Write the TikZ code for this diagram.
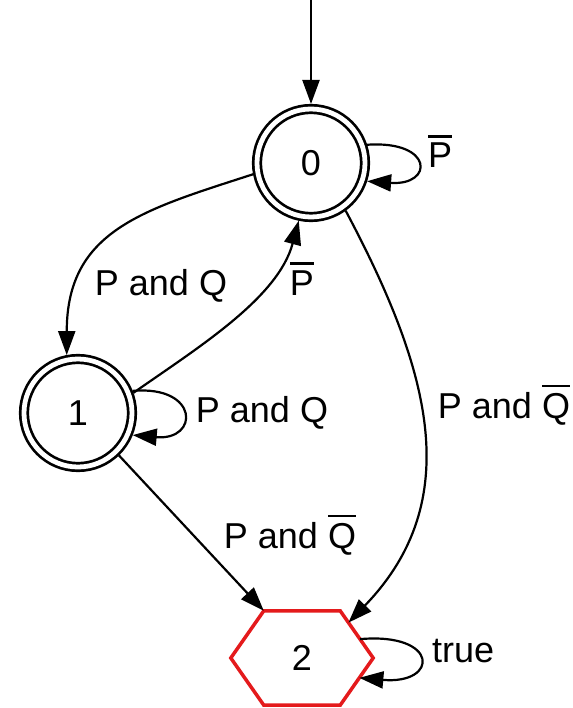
\documentclass[tikz,border=0pt]{standalone}
\usepackage{fontspec}
\setmainfont{Liberation Sans}
\usetikzlibrary{arrows.meta,calc}
\newcommand\ovl[1]{\leavevmode\vbox{\hrule height 2.4pt\kern 5.5pt\hbox{#1}}}
\definecolor{hexred}{RGB}{228,26,28}
\begin{document}
\begin{tikzpicture}[x=1pt,y=1pt,
  every node/.style={font=\fontsize{36}{43}\selectfont, inner sep=0pt},
  accstate/.style={circle, draw, line width=2.7pt, double, double distance=4.8pt,
    minimum size=108pt, outer sep=5pt},
  edge/.style={line width=2.2pt, -{Triangle[length=24pt,width=17pt]}},
  lab/.style={anchor=base}]
\useasboundingbox (0,0) rectangle (572,-708);
% nodes
\node[accstate] (n0) at (311,-163) {0};
\node[accstate] (n1) at (78,-413) {1};
\node[minimum width=142pt, minimum height=94pt] (n2) at (302,-658) {2};
% hexagon outline of node 2
\coordinate (n2w) at (n2.west);
\coordinate (n2e) at (n2.east);
\coordinate (n2nw) at ($(n2.north west)+(33,0)$);
\coordinate (n2ne) at ($(n2.north east)+(-33,0)$);
\coordinate (n2sw) at ($(n2.south west)+(33,0)$);
\coordinate (n2se) at ($(n2.south east)+(-33,0)$);
\draw[hexred, line width=3.5pt, line join=miter] (n2w) -- (n2nw) -- (n2ne) -- (n2e) -- (n2se) -- (n2sw) -- cycle;
\coordinate (n2in0) at ($(n2ne)!0.25!(n2e)$);
\coordinate (n2lpa) at ($(n2ne)!0.6!(n2e)$);
\coordinate (n2lpb) at ($(n2e)!0.42!(n2se)$);
% initial arrow
\coordinate (init) at (311,0);
\draw[edge] (init) -- (n0);
% edges
\draw[edge] (n0.191) .. controls +(198:115) and +(90:125) .. (n1.101);
\draw[edge] (n1.20) .. controls +(35:80) and +(255:80) .. (n0.258);
\draw[edge] (n0.306) .. controls +(-62:180) and +(46:170) .. (n2in0);
\draw[edge] (n1.-46) -- (n2nw);
% self loops
\draw[edge] (n0.18) .. controls +(4:67) and +(-4:67) .. (n0.-18);
\draw[edge] (n1.22) .. controls +(5:67) and +(-5:67) .. (n1.-22);
\draw[edge] (n2lpa) .. controls +(5:80) and +(-5:80) .. (n2lpb);
% labels
\node[lab] (l01) at (161,-295) {P and Q};
\node[lab] (l10) at (302,-295) {\ovl{P}};
\node[lab] (l00) at (440,-168) {\ovl{P}};
\node[lab] (l11) at (262,-422) {P and Q};
\node[lab] (l02) at (504,-418) {P and \ovl{Q}};
\node[lab] (l12) at (290,-548) {P and \ovl{Q}};
\node[anchor=base west] (l22) at (432,-662) {true};
\end{tikzpicture}
\end{document}
